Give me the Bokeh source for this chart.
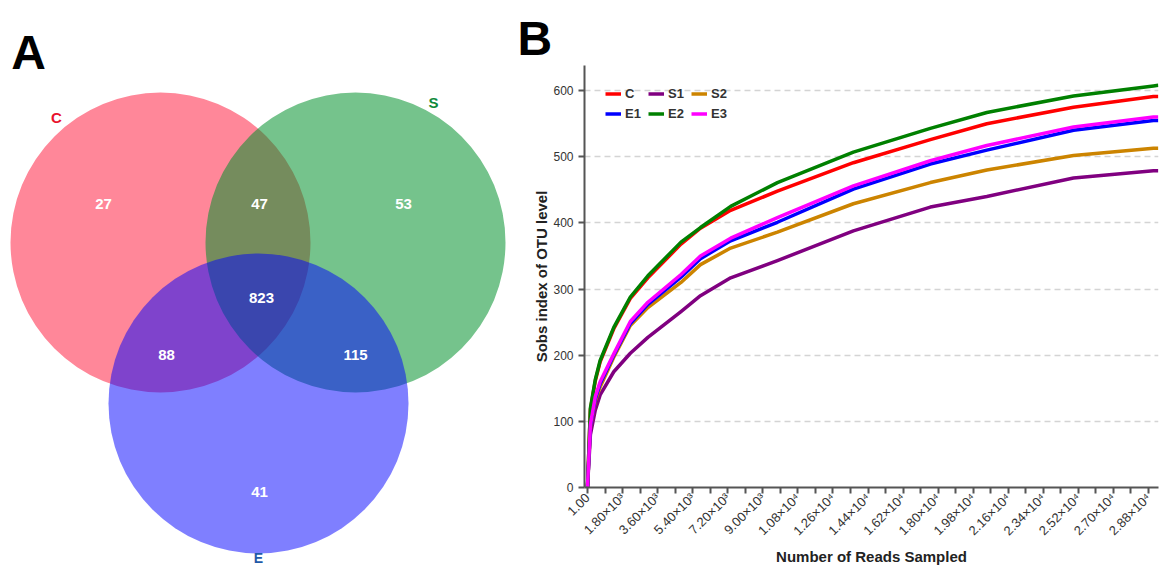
import math
from bokeh.plotting import figure
from bokeh.models import Range1d, FixedTicker, Legend, LegendItem
from bokeh.layouts import row
from bokeh.embed import file_html
from bokeh.resources import INLINE
from bokeh.core.properties import value

# ---------------- data: Venn (panel A) ----------------
venn_sets = ["C", "S", "E"]
venn_set_colors = ["#ff0f33", "#00902a", "#0000ff"]
venn_set_alphas = [0.5, 0.54, 0.5]
venn_label_colors = ["#e8112d", "#118a3c", "#1f5aa8"]
venn_regions = ["C only", "S only", "C&S", "C&S&E", "C&E", "S&E", "E only"]
venn_counts = [27, 53, 47, 823, 88, 115, 41]

# ---------------- data: rarefaction (panel B) ----------------
series_names = ["C", "S1", "S2", "E1", "E2", "E3"]
series_colors = ["#ff0000", "#800080", "#cc8400", "#0000ff", "#008000", "#ff00ff"]
reads = [1, 150, 400, 650, 1350, 2200, 3100, 4800, 5800, 7350, 9750, 13650, 17600, 20500, 24950, 29050, 29300]
obs_C = [1, 118, 161, 190, 240, 286, 317, 368, 392, 419, 448, 491, 526, 550, 575, 591, 591]
obs_S1 = [1, 80, 117, 140, 175, 203, 227, 266, 290, 317, 343, 388, 424, 440, 468, 479, 479]
obs_S2 = [1, 92, 131, 152, 197, 245, 272, 310, 337, 362, 386, 429, 461, 480, 502, 513, 513]
obs_E1 = [1, 93, 134, 157, 200, 248, 277, 318, 346, 373, 401, 451, 489, 510, 540, 555, 555]
obs_E2 = [1, 120, 163, 192, 242, 288, 320, 371, 393, 425, 461, 507, 543, 567, 592, 607, 608]
obs_E3 = [1, 95, 137, 160, 202, 251, 280, 322, 350, 377, 408, 456, 494, 517, 545, 560, 560]
series_values = [obs_C, obs_S1, obs_S2, obs_E1, obs_E2, obs_E3]

x_tick_values = [1, 1800, 3600, 5400, 7200, 9000, 10800, 12600, 14400, 16200,
                 18000, 19800, 21600, 23400, 25200, 27000, 28800]
x_tick_labels = ["1.00", "1.80×10³", "3.60×10³", "5.40×10³", "7.20×10³", "9.00×10³",
                 "1.08×10⁴", "1.26×10⁴", "1.44×10⁴", "1.62×10⁴", "1.80×10⁴", "1.98×10⁴",
                 "2.16×10⁴", "2.34×10⁴", "2.52×10⁴", "2.70×10⁴", "2.88×10⁴"]
x_minor_values = [900, 2700, 4500, 6300, 8100, 9900, 11700, 13500, 15300, 17100,
                  18900, 20700, 22500, 24300, 26100, 27900]
y_tick_values = [0, 100, 200, 300, 400, 500, 600]

FONT = "Liberation Sans"
H = 567

# ---------------- Panel A: Venn ----------------
pa = figure(width=518, height=H, output_backend="svg", toolbar_location=None,
            x_range=Range1d(0, 518), y_range=Range1d(H, 0),
            x_axis_type=None, y_axis_type=None, min_border=0)
pa.grid.visible = False
pa.outline_line_color = None
if hasattr(pa, "frame_align"):
    pa.frame_align = False

# layout geometry of the circles (pixel space of the panel)
circle_x = [160, 355, 258]
circle_y = [242, 242, 403]
circle_r = 150
for cx, cy, col, al in zip(circle_x, circle_y, venn_set_colors, venn_set_alphas):
    pa.circle(x=[cx], y=[cy], radius=circle_r, fill_color=col, fill_alpha=al, line_color=None)

set_label_x = [56, 433, 258]
set_label_y = [117, 102, 557]
set_label_size = ["15px", "15px", "14px"]
pa.text(x=set_label_x, y=set_label_y, text=venn_sets, text_color=venn_label_colors,
        text_font=value(FONT), text_font_style="bold", text_font_size=set_label_size,
        text_align="center", text_baseline="alphabetic")

region_x = [103, 403, 259, 261, 166, 355, 259]
region_y = [203, 203, 203, 297, 354, 354, 491]
pa.text(x=region_x, y=region_y, text=[str(v) for v in venn_counts], text_color="white",
        text_font=value(FONT), text_font_style="bold", text_font_size="15px",
        text_align="center", text_baseline="middle")

pa.text(x=[28], y=[52], text=["A"], text_color="black", text_font=value(FONT),
        text_font_style="bold", text_font_size="48px", text_align="center",
        text_baseline="alphabetic")

# ---------------- Panel B: rarefaction curves ----------------
pb = figure(width=641, height=H, output_backend="svg", toolbar_location=None,
            title="B",
            x_range=Range1d(-153, 29312), y_range=Range1d(0, 638),
            min_border_left=66, min_border_right=1, min_border_top=65, min_border_bottom=80)
pb.outline_line_color = None
if hasattr(pb, "frame_align"):
    pb.frame_align = False
pb.xgrid.visible = False
pb.ygrid.grid_line_color = "#d4d4d4"
pb.ygrid.grid_line_dash = "6 4"
pb.ygrid.grid_line_width = 1.5

pb.title.text_font = FONT
pb.title.text_font_style = "bold"
pb.title.text_font_size = "48px"
pb.title.text_color = "black"
pb.title.align = "left"
pb.title.offset = -67
pb.title.standoff = 2

renderers = []
for name, col, vals in zip(series_names, series_colors, series_values):
    r = pb.line(reads, vals, line_color=col, line_width=3.5, line_join="round")
    renderers.append((name, r))

legend = Legend(items=[LegendItem(label=n, renderers=[r]) for n, r in renderers],
                location=(21, 422 - 20 - 37), orientation="horizontal", nrows=2,
                background_fill_alpha=0, border_line_color=None,
                label_text_font=FONT, label_text_font_style="bold",
                label_text_font_size="13px", label_text_color="#333333",
                glyph_width=16, glyph_height=17, label_height=17, label_standoff=4,
                spacing=3, padding=0, margin=0)
pb.add_layout(legend)

for ax in (pb.xaxis[0], pb.yaxis[0]):
    ax.axis_line_color = "#555555"
    ax.axis_line_width = 2
    ax.major_tick_line_color = "#555555"
    ax.major_tick_line_width = 2
    ax.minor_tick_line_color = "#555555"
    ax.minor_tick_line_width = 2
    ax.major_tick_in = 0
    ax.major_tick_out = 6
    ax.minor_tick_in = 0
    ax.minor_tick_out = 6
    ax.major_label_text_font = FONT
    ax.major_label_text_color = "#333333"
    ax.axis_label_text_font = FONT
    ax.axis_label_text_font_style = "bold"
    ax.axis_label_text_font_size = "15px"
    ax.axis_label_text_color = "#222222"

pb.xaxis.ticker = FixedTicker(ticks=x_tick_values, minor_ticks=x_minor_values)
pb.xaxis.major_label_overrides = {v: s for v, s in zip(x_tick_values, x_tick_labels)}
pb.xaxis.major_label_orientation = math.pi / 4
pb.xaxis.major_label_text_font_size = "13px"
pb.xaxis.major_label_standoff = 2
pb.xaxis.axis_label = "Number of Reads Sampled"
pb.xaxis.axis_label_standoff = 1

pb.yaxis.ticker = FixedTicker(ticks=y_tick_values, minor_ticks=[])
pb.yaxis.major_label_text_font_size = "12px"
pb.yaxis.axis_label = "Sobs index of OTU level"
pb.yaxis.axis_label_standoff = 0

layout = row(pa, pb)
open("out.html", "w").write(file_html(layout, INLINE))
